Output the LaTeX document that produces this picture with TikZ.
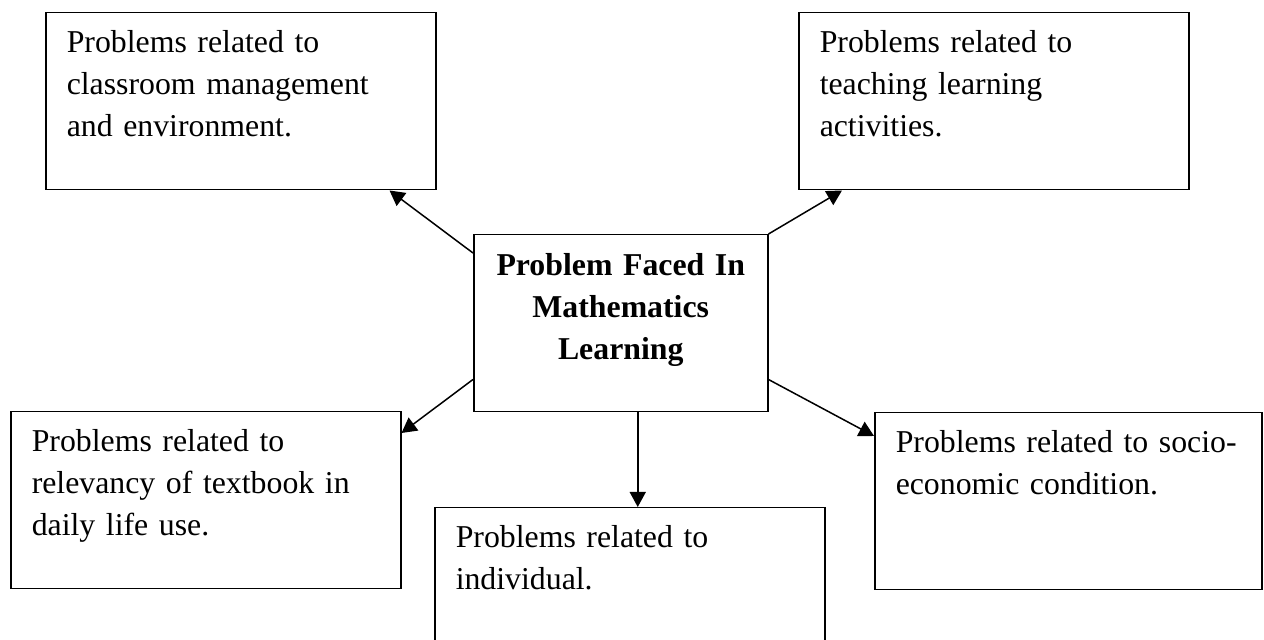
\documentclass[tikz,border=0pt]{standalone}
\usepackage{fontspec}
\setmainfont{Liberation Serif}
\usetikzlibrary{arrows.meta,positioning}

\begin{document}
\begin{tikzpicture}[x=0.5pt, y=-0.5pt, >={Triangle[length=7.5pt,width=8pt]},
 every node/.style={font=\fontsize{15.9}{21}\selectfont},
 problem/.style={draw, line width=0.75pt, anchor=north west, align=left,
  inner xsep=10.5pt, inner ysep=0pt, text width=174pt,
  text height=20pt, text depth=68.5pt},
 centrebox/.style={draw, line width=0.75pt, anchor=north west, align=center,
  inner xsep=5pt, inner ysep=0pt, text width=137pt,
  text height=20.5pt, text depth=68pt, font=\fontsize{15.9}{21}\selectfont\bfseries},
 link/.style={->, line width=0.75pt}]
\useasboundingbox (0,0) rectangle (1264,640);
\node[centrebox] (centre) at (473,234) {Problem Faced In\\Mathematics\\Learning};
\node[problem] (classroom) at (45,12) {Problems related to\\classroom management\\and environment.};
\node[problem] (teaching) at (798,12) {Problems related to\\teaching learning\\activities.};
\node[problem] (textbook) at (10,411) {Problems related to\\relevancy of textbook in\\daily life use.};
\node[problem] (individual) at (434,507) {Problems related to\\individual.};
\node[problem, text width=172.5pt] (socio) at (874,412) {Problems related to socio-\\economic condition.};
\draw[link] ([yshift=-9.5pt]centre.north west) -- ([xshift=-23.5pt]classroom.south east);
\draw[link] (centre.north east) -- ([xshift=22pt]teaching.south west);
\draw[link] ([yshift=16.5pt]centre.south west) -- ([yshift=-11pt]textbook.north east);
\draw[link] ([yshift=16.5pt]centre.south east) -- ([yshift=-12pt]socio.north west);
\draw[link] ([xshift=8.5pt]centre.south) -- ([xshift=4pt]individual.north);
\end{tikzpicture}
\end{document}
